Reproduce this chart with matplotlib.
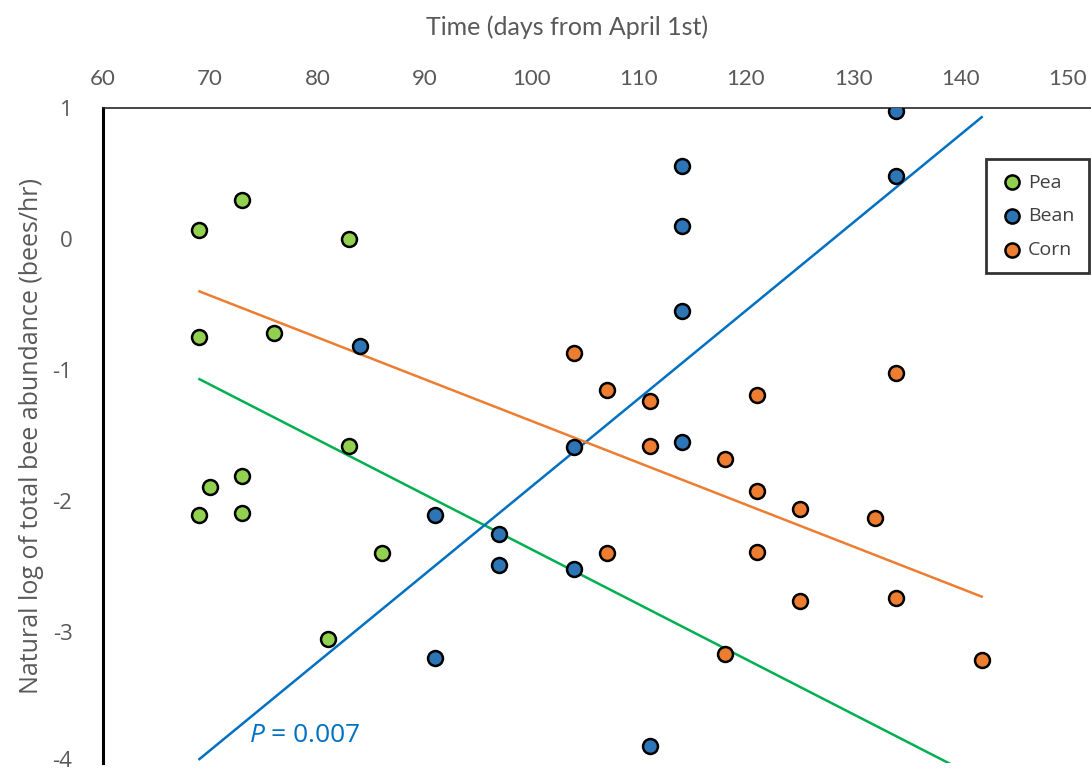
import matplotlib.pyplot as plt
from matplotlib.transforms import ScaledTranslation

# pea plots
pea_x = [69, 73, 83, 69, 76, 83, 73, 70, 69, 73, 86, 81]
pea_y = [0.07, 0.30, 0.00, -0.75, -0.72, -1.58, -1.81, -1.89, -2.11, -2.09, -2.40, -3.05]

# bean plots
bean_x = [134, 134, 114, 114, 114, 84, 104, 114, 91, 97, 97, 104, 91, 111]
bean_y = [0.98, 0.48, 0.56, 0.10, -0.55, -0.82, -1.59, -1.55, -2.11, -2.25, -2.49, -2.52, -3.20, -3.87]

# corn plots
corn_x = [104, 107, 111, 111, 121, 134, 118, 121, 125, 132, 107, 121, 125, 134, 118, 142]
corn_y = [-0.87, -1.15, -1.24, -1.58, -1.19, -1.02, -1.68, -1.92, -2.06, -2.13, -2.40, -2.39, -2.76, -2.74, -3.17, -3.21]

# linear trendlines (end points)
trend_x = [69, 142]
pea_trend = [-1.07, -4.13]
bean_trend = [-3.97, 0.93]
corn_trend = [-0.40, -2.73]

plt.rcParams['axes.unicode_minus'] = False
plt.rcParams['mathtext.fontset'] = 'custom'
plt.rcParams['mathtext.it'] = 'Open Sans:italic'

narrow = ['Lato', 'DejaVu Sans']
sans = ['Open Sans', 'DejaVu Sans']
grey = '#595959'

fig = plt.figure(figsize=(10.91, 7.73), dpi=100)
ax = fig.add_axes([103 / 1091, 1 - 763 / 773, 1 - 103 / 1091, (763 - 108) / 773])

ax.plot(trend_x, pea_trend, color='#00B050', lw=1.8, zorder=2)
ax.plot(trend_x, bean_trend, color='#0070C0', lw=1.8, zorder=2)
ax.plot(trend_x, corn_trend, color='#ED7D31', lw=1.8, zorder=2)

kw = dict(s=115, edgecolors='black', linewidths=1.8, zorder=3)
ax.scatter(pea_x, pea_y, color='#92D050', label='Pea', **kw)
ax.scatter(bean_x, bean_y, color='#2E75B6', label='Bean', **kw)
ax.scatter(corn_x, corn_y, color='#ED7D31', label='Corn', **kw)

ax.set_xlim(60, 152.2)
ax.set_ylim(-4, 1)
ax.set_xticks(range(60, 151, 10))
ax.set_yticks(range(-4, 2))
ax.xaxis.tick_top()
ax.tick_params(axis='both', length=0, colors=grey)
ax.tick_params(axis='x', pad=14)
ax.tick_params(axis='y', pad=22)
for lab in ax.get_xticklabels():
    lab.set_family(narrow)
    lab.set_fontsize(16)
for lab in ax.get_yticklabels():
    lab.set_family(sans)
    lab.set_fontsize(16)
# nudge the bottom label up so it stays inside the figure
bottom_lab = ax.get_yticklabels()[0]
bottom_lab.set_transform(bottom_lab.get_transform()
                         + ScaledTranslation(0, 3 / 72, fig.dpi_scale_trans))

ax.spines['bottom'].set_visible(False)
ax.spines['right'].set_visible(False)
ax.spines['left'].set_linewidth(2.2)
ax.spines['left'].set_color('black')
ax.spines['top'].set_linewidth(1.2)
ax.spines['top'].set_color('#262626')

ax.set_ylabel('Natural log of total bee abundance (bees/hr)', family=sans,
              fontsize=18, color=grey, labelpad=6)
fig.text(567 / 1091, 1 - 27 / 773, 'Time (days from April 1st)', family=narrow,
         fontsize=18, color=grey, ha='center', va='center')

ax.text(73.6, -3.79, '$P$ = 0.007', family=sans, fontsize=19, color='#0070C0',
        va='center')

leg = ax.legend(loc='upper left', bbox_to_anchor=(986 / 1091, 1 - 159 / 773),
                bbox_transform=fig.transFigure, frameon=True, fancybox=False,
                prop={'family': sans, 'size': 14}, handletextpad=0.2,
                markerscale=0.95, borderpad=0.75, labelspacing=0.8,
                handlelength=1.2, borderaxespad=0)
leg.get_frame().set_edgecolor('black')
leg.get_frame().set_linewidth(2)
for t in leg.get_texts():
    t.set_color('#404040')

plt.savefig('out.png')
